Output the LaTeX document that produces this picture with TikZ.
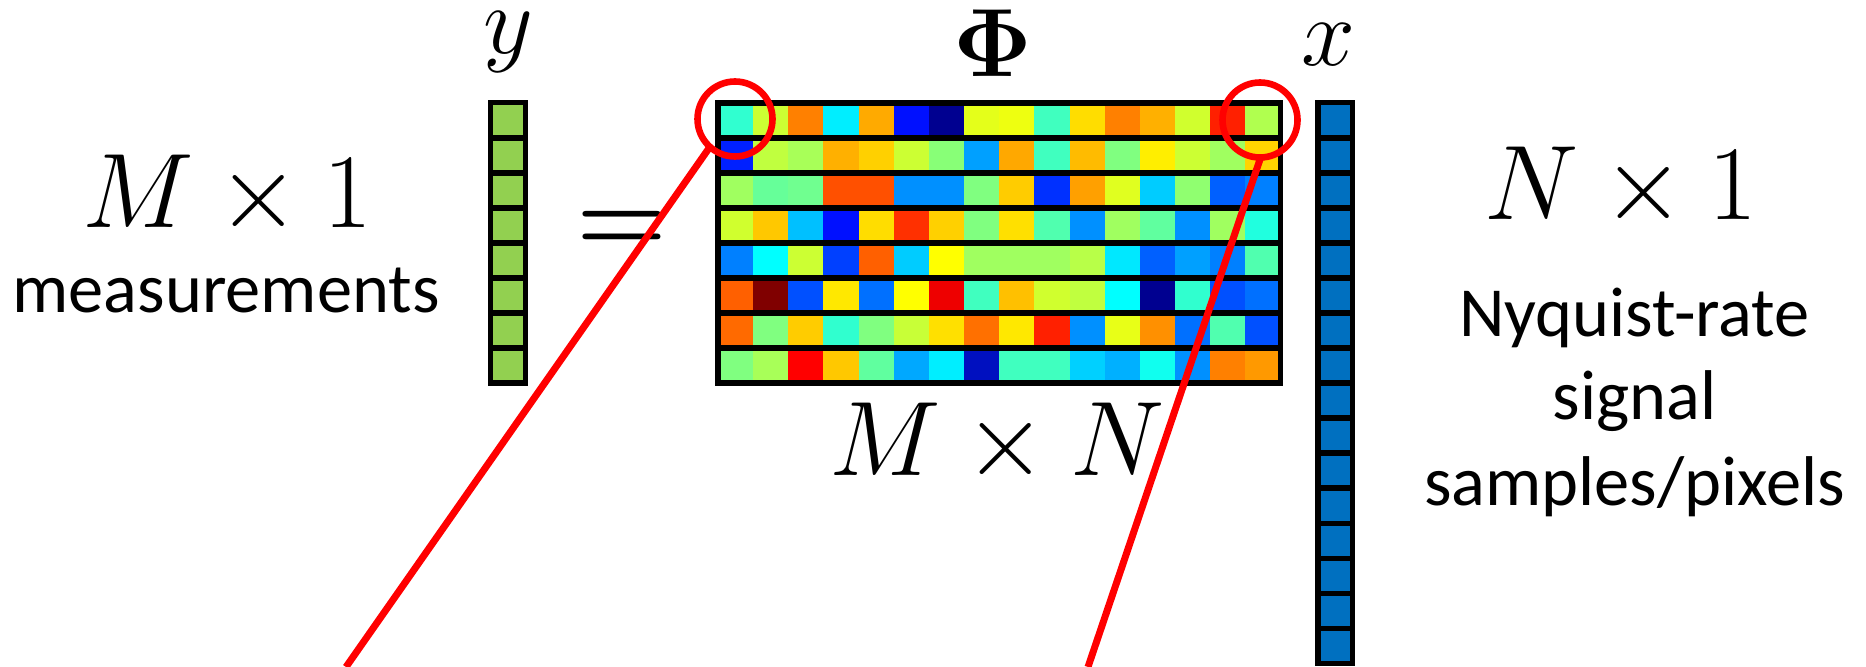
\RequirePackage{fix-cm}
\documentclass[tikz,border=0pt]{standalone}
\usepackage[no-math]{fontspec}
\newfontfamily\calibri{Carlito}
\definecolor{yfill}{HTML}{92D050}
\definecolor{xfill}{HTML}{0070C0}
\definecolor{ringred}{HTML}{FF0000}
\begin{document}
\begin{tikzpicture}[x=0.5pt,y=-0.5pt,
  frame/.style={draw=black,line width=2.8pt},
  sepline/.style={draw=black,line width=2.8pt},
  vecname/.style={font=\fontsize{48.5}{58}\selectfont,inner sep=0pt,anchor=base},
  dimlab/.style={font=\fontsize{53}{63}\selectfont,inner sep=0pt,anchor=base},
  txtlab/.style={font=\calibri\fontsize{35.2}{42}\selectfont,inner sep=0pt,anchor=base},
  zoomring/.style={circle,draw=ringred,line width=3.3pt,minimum size=37.5pt,inner sep=0pt,outer sep=0pt},
  zoomline/.style={draw=ringred,line width=3.5pt}]
\useasboundingbox (0,0) rectangle (1866,667);
\fill[white] (0,0) rectangle (1866,667);

% ---- y vector (8 cells)
\fill[yfill] (490.3,102.7) rectangle (525.3,383);
\foreach \k in {1,...,7}
  \draw[sepline] (490.3,{102.7+35.04*\k}) -- (525.3,{102.7+35.04*\k});
\draw[frame] (490.3,102.7) rectangle (525.3,383);

% ---- matrix Phi (8 x 16)
\foreach \rowcols [count=\r] in {
 {30FFD0,CCFF33,FF8000,00EEFF,FFAA00,0010FF,000090,E4FF1A,EEFF10,40FFBF,FFDD00,FF8000,FFB000,D0FF2E,FF2000,B0FF4F},
 {0020FF,C0FF3F,A8FF58,FFB000,FFD000,CCFF33,88FF77,00A0FF,FFA800,40FFBF,FFBB00,80FF80,FFEE00,CCFF33,A0FF60,FFD400},
 {A0FF60,66FF99,70FF90,FF5000,FF5000,0090FF,0090FF,80FF80,FFCC00,0030FF,FFA000,E0FF20,00CCFF,90FF70,0060FF,0080FF},
 {D0FF2E,FFC800,00C0FF,0010FF,FFDD00,FF3000,FFD000,80FF80,FFE000,50FFAF,0090FF,A0FF60,60FF9F,0090FF,A0FF60,20FFDF},
 {0080FF,00FFFF,CCFF33,0040FF,FF6000,00CCFF,FFFF00,A0FF60,A0FF60,A0FF60,B8FF48,00E8FF,0060FF,00A0FF,0080FF,50FFAF},
 {FF6000,800000,0050FF,FFE800,0070FF,FFFF00,EE0000,40FFBF,FFC000,D0FF2E,C0FF3F,00FFFF,000090,30FFCF,0050FF,0070FF},
 {FF6A00,80FF80,FFCC00,30FFCF,80FF80,C8FF37,FFE000,FF7000,FFE800,FF2000,0090FF,E8FF17,FF9000,0070FF,50FFAF,0050FF},
 {80FF80,A8FF58,FF0000,FFC800,60FF9F,00A8FF,00EEFF,0010C0,40FFBF,40FFBF,00D0FF,00B0FF,10FFEF,0090FF,FF8000,FF9900}}{
  \foreach \c [count=\j] in \rowcols {
    \definecolor{cellc}{HTML}{\c}
    \fill[cellc] ({718+35.16*(\j-1)},{102.8+35.03*(\r-1)}) rectangle +(35.6,35.4);
  }
}
\foreach \k in {1,...,7}
  \draw[sepline] (718,{102.8+35.03*\k}) -- (1280.5,{102.8+35.03*\k});
\draw[frame] (718,102.8) rectangle (1280.5,383);

% ---- x vector (16 cells)
\fill[xfill] (1317.7,102.7) rectangle (1352.3,663.5);
\foreach \k in {1,...,15}
  \draw[sepline] (1317.7,{102.7+35.05*\k}) -- (1352.3,{102.7+35.05*\k});
\draw[frame] (1317.7,102.7) rectangle (1352.3,663.5);

% ---- labels
\node[vecname] (ylab) at (508,54) {$y$};
\node[vecname] (philab) at (993,76.7) {$\mathbf{\Phi}$};
\node[vecname] (xlab) at (1328,66) {$x$};
\node[dimlab] (m1) at (227.5,228) {$M\times 1$};
\node[txtlab] (meas) at (226,313) {measurements};
\node[dimlab] (mn) at (997,475) {$M\times N$};
\node[dimlab] (n1) at (1620.5,220) {$N\times 1$};
\node[txtlab] (nyq1) at (1634.5,336.7) {Nyquist-rate};
\node[txtlab] (nyq2) at (1634.5,420) {signal};
\node[txtlab] (nyq3) at (1634.5,505) {samples/pixels};
\node[font=\fontsize{52}{62}\selectfont\bfseries,inner sep=0pt,anchor=base] (eq) at (621.7,252) {=};

% ---- zoom rings and lines
\node[zoomring] (lc) at (735,119) {};
\node[zoomring] (rc) at (1260,120) {};
\coordinate (lend) at (346,667);
\coordinate (rend) at (1088,667);
\draw[zoomline] (lc.-132) -- (lend);
\draw[zoomline] (rc.-89) -- (rend);
\end{tikzpicture}
\end{document}
